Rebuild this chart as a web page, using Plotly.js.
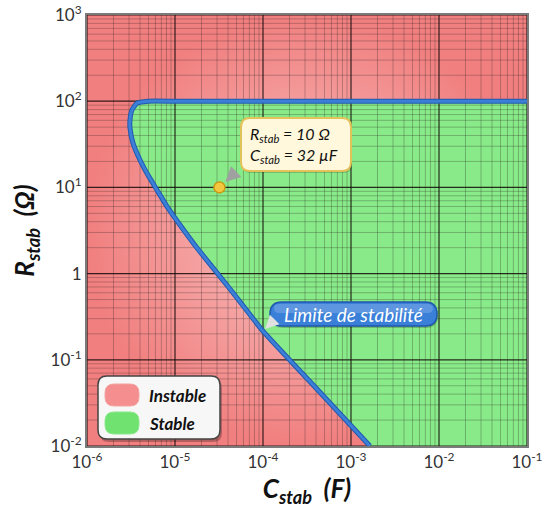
<!DOCTYPE html>
<html><head><meta charset="utf-8">
<script src="https://cdn.plot.ly/plotly-3.0.1.min.js"></script>
<style>html,body{margin:0;padding:0;background:#fff}#chart{width:545px;height:517px}</style>
</head><body><div id="chart"></div>
<script>
// ---- data ----
const xDecades = [-6, -5, -4, -3, -2, -1];
const xTickText = ['10<sup>-6</sup>', '10<sup>-5</sup>', '10<sup>-4</sup>', '10<sup>-3</sup>', '10<sup>-2</sup>', '10<sup>-1</sup>'];
const yDecades = [-2, -1, 0, 1, 2, 3];
const yTickText = ['10<sup>-2</sup>', '10<sup>-1</sup>', '1', '10<sup>1</sup>', '10<sup>2</sup>', '10<sup>3</sup>'];
const seriesNames = ['Instable', 'Stable'];
// stability limit curve (C in F, R in ohm)
const limitC = [1e-1, 1e-4, 1e-5, 4.93e-6, 3.70e-6, 3.24e-6, 3.08e-6, 3.08e-6, 3.33e-6, 4.0e-6, 4.93e-6, 6.24e-6, 8.32e-6, 1.14e-5, 1.78e-5, 4.22e-5, 1.0e-4, 4.0e-4, 1.64e-3];
const limitR = [100, 100, 100, 100, 95, 79, 60.5, 48.9, 32.7, 20.8, 13.9, 9.33, 5.77, 3.66, 1.98, 0.663, 0.215, 0.047, 0.01];
const pointC = [3.2e-5];
const pointR = [10];
const pointLabel = ['R<sub>stab</sub> = 10 Ω', 'C<sub>stab</sub> = 32 µF'];
const limitLabel = 'Limite de stabilité';
const labelPointC = 1.0e-4, labelPointR = 0.215;

// ---- construction ----
const xMin = Math.pow(10, xDecades[0]), xMax = Math.pow(10, xDecades[xDecades.length - 1]);
const yMin = Math.pow(10, yDecades[0]), yMax = Math.pow(10, yDecades[yDecades.length - 1]);

const M = {l: 87, r: 18, t: 15, b: 71};
const W = 545 - M.l - M.r, H = 517 - M.t - M.b;
const PX = p => (p - M.l) / W;
const PY = p => (M.t + H - p) / H;
function rr(x0, y0, x1, y1, r) {
  const p = (x, y) => PX(x).toFixed(5) + ',' + PY(y).toFixed(5);
  return 'M' + p(x0 + r, y0) + ' L' + p(x1 - r, y0) + ' Q' + p(x1, y0) + ' ' + p(x1, y0 + r) +
    ' L' + p(x1, y1 - r) + ' Q' + p(x1, y1) + ' ' + p(x1 - r, y1) +
    ' L' + p(x0 + r, y1) + ' Q' + p(x0, y1) + ' ' + p(x0, y1 - r) +
    ' L' + p(x0, y0 + r) + ' Q' + p(x0, y0) + ' ' + p(x0 + r, y0) + ' Z';
}

const traces = [];
traces.push({
  x: [xMin, xMax, xMax, xMin, xMin], y: [yMin, yMin, yMax, yMax, yMin],
  mode: 'lines', fill: 'toself', name: seriesNames[0], showlegend: false,
  line: {width: 0, color: '#f49a9a'}, fillcolor: '#f49a9a',
  fillgradient: {type: 'radial', colorscale: [[0, '#f9c4c4'], [1, '#f17f7f']]},
  hoverinfo: 'skip'
});
traces.push({
  x: limitC.concat([xMax, limitC[0]]), y: limitR.concat([yMin, limitR[0]]),
  mode: 'lines', fill: 'toself', name: seriesNames[1], showlegend: false,
  line: {width: 0, color: '#88ea88'}, fillcolor: '#88ea88',
  hoverinfo: 'skip'
});
function gridLines(major) {
  const gx = [], gy = [], hx = [], hy = [];
  for (let i = 0; i < xDecades.length; i++) {
    const base = Math.pow(10, xDecades[i]);
    for (let m = 1; m <= 9; m++) {
      if ((m === 1) !== major) continue;
      if (i === xDecades.length - 1 && m > 1) continue;
      const v = m * base;
      gx.push(v, v, null); gy.push(yMin, yMax, null);
    }
  }
  for (let i = 0; i < yDecades.length; i++) {
    const base = Math.pow(10, yDecades[i]);
    for (let m = 1; m <= 9; m++) {
      if ((m === 1) !== major) continue;
      if (i === yDecades.length - 1 && m > 1) continue;
      const v = m * base;
      hx.push(xMin, xMax, null); hy.push(v, v, null);
    }
  }
  return {x: gx.concat(hx), y: gy.concat(hy)};
}
const minor = gridLines(false), major = gridLines(true);
traces.push({x: minor.x, y: minor.y, mode: 'lines', line: {color: 'rgba(40,30,30,0.27)', width: 1}, showlegend: false, hoverinfo: 'skip'});
traces.push({x: major.x, y: major.y, mode: 'lines', line: {color: 'rgba(20,10,10,0.85)', width: 1.2}, showlegend: false, hoverinfo: 'skip'});
traces.push({x: limitC, y: limitR, mode: 'lines', line: {color: '#2159b0', width: 5, shape: 'spline', smoothing: 0.4}, showlegend: false, hoverinfo: 'skip'});
traces.push({x: limitC, y: limitR, mode: 'lines', line: {color: '#3b7fd6', width: 3, shape: 'spline', smoothing: 0.4}, showlegend: false, hoverinfo: 'skip'});
traces.push({x: pointC, y: pointR, mode: 'markers', marker: {size: 11, color: '#f3c840', line: {color: '#c99a12', width: 1.5}}, showlegend: false, hoverinfo: 'skip'});

const fontFam = 'Lato, "Open Sans", sans-serif';

// decorations: legend box, label boxes (pixel layout)
const LEG = {x0: 98, y0: 376, x1: 220, y1: 439};
const PILL1 = {x0: 105, y0: 384, x1: 139, y1: 406};
const PILL2 = {x0: 105, y0: 412, x1: 139, y1: 434};
const YBOX = {x0: 241, y0: 118, x1: 351, y1: 171};
const BBOX = {x0: 270, y0: 302, x1: 437, y1: 326};

const shapes = [
  {type: 'path', xref: 'paper', yref: 'paper', path: rr(LEG.x0 + 2, LEG.y0 + 3, LEG.x1 + 2, LEG.y1 + 3, 9), fillcolor: 'rgba(0,0,0,0.25)', line: {width: 0}, layer: 'above'},
  {type: 'path', xref: 'paper', yref: 'paper', path: rr(LEG.x0, LEG.y0, LEG.x1, LEG.y1, 9), fillcolor: '#f7f7f7', line: {color: '#444', width: 1.5}, layer: 'above'},
  {type: 'path', xref: 'paper', yref: 'paper', path: rr(PILL1.x0, PILL1.y0, PILL1.x1, PILL1.y1, 9), fillcolor: '#f58e8e', line: {color: '#f3a3a3', width: 1}, layer: 'above'},
  {type: 'path', xref: 'paper', yref: 'paper', path: rr(PILL2.x0, PILL2.y0, PILL2.x1, PILL2.y1, 9), fillcolor: '#6fe26f', line: {color: '#8ce88c', width: 1}, layer: 'above'},
  {type: 'path', xref: 'paper', yref: 'paper', path: rr(YBOX.x0 + 1, YBOX.y0 + 2, YBOX.x1 + 1, YBOX.y1 + 2, 9), fillcolor: 'rgba(0,0,0,0.18)', line: {width: 0}, layer: 'above'},
  {type: 'path', xref: 'paper', yref: 'paper', path: rr(YBOX.x0, YBOX.y0, YBOX.x1, YBOX.y1, 9), fillcolor: '#fff8dc', line: {color: '#e3c259', width: 2}, layer: 'above'},
  {type: 'path', xref: 'paper', yref: 'paper', path: rr(BBOX.x0 + 1, BBOX.y0 + 2, BBOX.x1 + 1, BBOX.y1 + 2, 12), fillcolor: 'rgba(0,0,0,0.2)', line: {width: 0}, layer: 'above'},
  {type: 'path', xref: 'paper', yref: 'paper', path: rr(BBOX.x0, BBOX.y0, BBOX.x1, BBOX.y1, 12), fillcolor: '#3b80d8', line: {color: '#1f57ad', width: 1.5}, layer: 'above'},
  {type: 'path', xref: 'paper', yref: 'paper', path: rr(BBOX.x0 + 4, BBOX.y0 + 2, BBOX.x1 - 4, BBOX.y0 + 11, 5), fillcolor: 'rgba(255,255,255,0.18)', line: {width: 0}, layer: 'above'}
];

const layout = {
  width: 545, height: 517,
  margin: M,
  paper_bgcolor: '#ffffff', plot_bgcolor: '#f49a9a',
  showlegend: false,
  xaxis: {
    type: 'log', range: [xDecades[0], xDecades[xDecades.length - 1]],
    tickvals: xDecades.map(d => Math.pow(10, d)), ticktext: xTickText,
    showgrid: false, zeroline: false, showline: true, mirror: true, linecolor: '#7a7a7a', linewidth: 2,
    ticks: '', tickfont: {family: fontFam, size: 17, color: '#333'},
    title: {text: 'C<sub>stab</sub>  (F)', font: {family: fontFam, size: 26, color: '#111', weight: 'bold', style: 'italic'}, standoff: 6}
  },
  yaxis: {
    type: 'log', range: [yDecades[0], yDecades[yDecades.length - 1]],
    tickvals: yDecades.map(d => Math.pow(10, d)), ticktext: yTickText,
    showgrid: false, zeroline: false, showline: true, mirror: true, linecolor: '#7a7a7a', linewidth: 2,
    ticks: '', tickfont: {family: fontFam, size: 17, color: '#333'},
    title: {text: 'R<sub>stab</sub>  (Ω)', font: {family: fontFam, size: 26, color: '#111', weight: 'bold', style: 'italic'}, standoff: 8}
  },
  shapes: shapes,
  annotations: [
    {xref: 'paper', yref: 'paper', x: PX(147), y: PY((PILL1.y0 + PILL1.y1) / 2), xanchor: 'left', yanchor: 'middle', showarrow: false,
      text: seriesNames[0], font: {family: fontFam, size: 17, color: '#111', weight: 'bold', style: 'italic'}},
    {xref: 'paper', yref: 'paper', x: PX(147), y: PY((PILL2.y0 + PILL2.y1) / 2), xanchor: 'left', yanchor: 'middle', showarrow: false,
      text: seriesNames[1], font: {family: fontFam, size: 17, color: '#111', weight: 'bold', style: 'italic'}},
    {xref: 'paper', yref: 'paper', x: PX(YBOX.x0 + 7), y: PY((YBOX.y0 + YBOX.y1) / 2), xanchor: 'left', yanchor: 'middle', showarrow: false, align: 'left',
      text: pointLabel.join('<br>'), font: {family: fontFam, size: 16, color: '#111', style: 'italic'}},
    {xref: 'paper', yref: 'paper', x: PX((BBOX.x0 + BBOX.x1) / 2), y: PY((BBOX.y0 + BBOX.y1) / 2), xanchor: 'center', yanchor: 'middle', showarrow: false,
      text: limitLabel, font: {family: fontFam, size: 19, color: '#ffffff', style: 'italic'}},
    {x: Math.log10(pointC[0]), y: Math.log10(pointR[0]), xref: 'x', yref: 'y', ax: 17, ay: -16, text: '',
      showarrow: true, arrowhead: 2, arrowsize: 2, arrowwidth: 1.5, arrowcolor: '#a0a0a0', standoff: 8},
    {x: Math.log10(labelPointC), y: Math.log10(labelPointR), xref: 'x', yref: 'y', ax: 10, ay: -10, text: '',
      showarrow: true, arrowhead: 2, arrowsize: 1.8, arrowwidth: 1.5, arrowcolor: '#e0e0e0', standoff: 3}
  ]
};
Plotly.newPlot('chart', traces, layout, {staticPlot: true, displayModeBar: false});
</script>
</body></html>
